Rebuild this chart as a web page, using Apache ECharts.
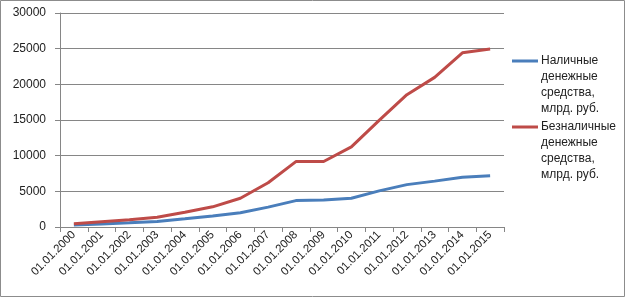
<!DOCTYPE html>
<html><head><meta charset="utf-8">
<script src="https://cdn.jsdelivr.net/npm/echarts@6/dist/echarts.min.js"></script>
<style>html,body{margin:0;padding:0;background:#fff}#c{width:625px;height:297px;}</style>
</head><body><div id="c"></div>
<script>
const categories = ['01.01.2000','01.01.2001','01.01.2002','01.01.2003','01.01.2004','01.01.2005','01.01.2006','01.01.2007','01.01.2008','01.01.2009','01.01.2010','01.01.2011','01.01.2012','01.01.2013','01.01.2014','01.01.2015'];
const cash = [266, 419, 584, 763, 1147, 1535, 2009, 2785, 3702, 3795, 4038, 5063, 5939, 6430, 6986, 7172];
const nonCash = [448, 735, 1029, 1371, 2066, 2829, 4023, 6211, 9167, 9181, 11229, 14949, 18545, 20975, 24419, 24939];
const seriesNames = ['Наличные\nденежные\nсредства,\nмлрд. руб.', 'Безналичные\nденежные\nсредства,\nмлрд. руб.'];
const yTicks = {min: 0, max: 30000, interval: 5000};

const chart = echarts.init(document.getElementById('c'));
const legendIcon = 'path://M0,0L26,0L26,3L0,3Z M0,51L0.01,51L0.01,51.01Z';
chart.setOption({
  animation: false,
  backgroundColor: '#fff',
  textStyle: {fontFamily: 'Liberation Sans'},
  graphic: [{type: 'rect', shape: {x: 0.5, y: 0.5, width: 624, height: 296}, style: {fill: 'none', stroke: '#8c8c8c', lineWidth: 1}, silent: true}],
  grid: {left: 60, right: 121, top: 13, bottom: 70},
  legend: {
    orient: 'vertical', left: 507, top: 48, itemGap: 2,
    itemWidth: 26, itemHeight: 51, icon: legendIcon,
    itemStyle: {borderWidth: 0},
    textStyle: {fontSize: 12, color: '#222', lineHeight: 16, padding: [0,0,0,-2]},
    data: seriesNames
  },
  xAxis: {
    type: 'category', data: categories, boundaryGap: true,
    axisLine: {lineStyle: {color: '#868686', width: 1}},
    axisTick: {show: true, length: 5, lineStyle: {color: '#868686'}},
    axisLabel: {rotate: 45, fontSize: 11.5, color: '#222', margin: 6, interval: 0}
  },
  yAxis: {
    type: 'value', min: yTicks.min, max: yTicks.max, interval: yTicks.interval,
    axisLine: {show: true, lineStyle: {color: '#868686', width: 1}},
    axisTick: {show: true, length: 5, lineStyle: {color: '#868686'}},
    splitLine: {lineStyle: {color: '#868686', width: 1}},
    axisLabel: {fontSize: 12, color: '#222', margin: 14, formatter: v => String(v)}
  },
  series: [
    {name: seriesNames[0], type: 'line', data: cash, symbol: 'none', color: '#4A7EBB', lineStyle: {width: 3, color: '#4A7EBB'}},
    {name: seriesNames[1], type: 'line', data: nonCash, symbol: 'none', color: '#BE4B48', lineStyle: {width: 3, color: '#BE4B48'}}
  ]
});
</script></body></html>
